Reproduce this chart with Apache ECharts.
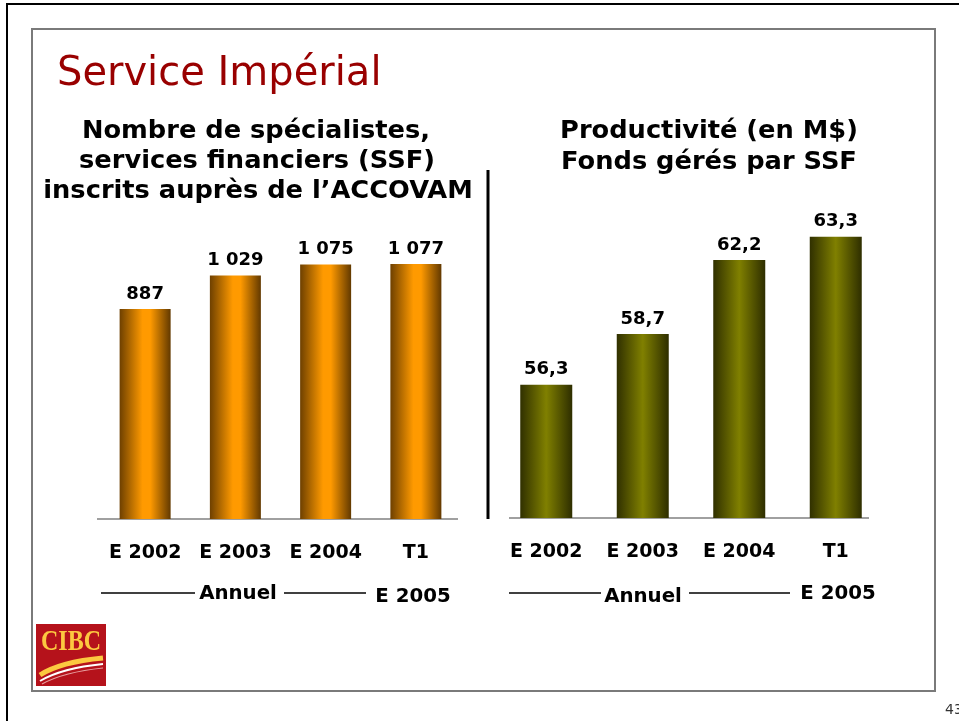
<!DOCTYPE html>
<html>
<head>
<meta charset="utf-8">
<script src="https://cdn.jsdelivr.net/npm/echarts@6/dist/echarts.min.js"></script>
<style>
  html, body { margin: 0; padding: 0; background: #fff; }
  #chart { width: 959px; height: 721px; }
</style>
</head>
<body>
<div id="chart"></div>
<script>
  // categories and values
  const categories = ['E 2002', 'E 2003', 'E 2004', 'T1']
  const ssfCount = [887, 1029, 1075, 1077]
  const fundsPerSsf = [56.3, 58.7, 62.2, 63.3]
  const groupLabels = ['Annuel', 'E 2005']

  const FONT = '"DejaVu Sans", Verdana, sans-serif'

  const orange = new echarts.graphic.LinearGradient(0, 0, 1, 0, [
    { offset: 0, color: '#6e4000' },
    { offset: 0.45, color: '#ff9a00' },
    { offset: 0.6, color: '#ff9a00' },
    { offset: 1, color: '#623900' }
  ])
  const olive = new echarts.graphic.LinearGradient(0, 0, 1, 0, [
    { offset: 0, color: '#303000' },
    { offset: 0.5, color: '#808000' },
    { offset: 1, color: '#2e2e00' }
  ])

  // 1029 -> "1 029", 56.3 -> "56,3"
  function spaced(v) {
    return String(v).replace(/\B(?=(\d{3})+(?!\d))/g, ' ')
  }
  function comma(v) {
    return v.toFixed(1).replace('.', ',')
  }

  function boldText(x, y, text, size, sx) {
    return {
      type: 'text', x: x, y: y, scaleX: sx || 1,
      style: {
        text: text, fill: '#000', font: 'bold ' + size + 'px ' + FONT,
        textAlign: 'center', textVerticalAlign: 'middle'
      }
    }
  }
  function hline(x1, x2, y, color, w) {
    return {
      type: 'line',
      shape: { x1: x1, y1: y, x2: x2, y2: y },
      style: { stroke: color || '#000', lineWidth: w || 1.5 }
    }
  }

  const chart = echarts.init(document.getElementById('chart'))

  const labelStyle = {
    show: true, position: 'top', distance: 6,
    color: '#000', fontFamily: FONT, fontWeight: 'bold', fontSize: 18
  }
  const xLabel = {
    interval: 0,
    color: '#000', fontFamily: FONT, fontWeight: 'bold', fontSize: 19,
    margin: 24, lineHeight: 20
  }

  chart.setOption({
    animation: false,
    title: {
      text: 'Service Impérial',
      left: 57, top: 55, padding: 0,
      textStyle: {
        color: '#990000', fontFamily: FONT, fontWeight: 'normal', fontSize: 40,
        textShadowColor: '#a8a8a8', textShadowOffsetX: 2, textShadowOffsetY: 2
      }
    },
    grid: [
      { left: 100, width: 361, top: 235, height: 284 },
      { left: 498, width: 386, top: 222, height: 296 }
    ],
    xAxis: [
      {
        gridIndex: 0, type: 'category', data: categories,
        axisLine: { show: false }, axisTick: { show: false }, axisLabel: xLabel
      },
      {
        gridIndex: 1, type: 'category', data: categories,
        axisLine: { show: false }, axisTick: { show: false }, axisLabel: xLabel
      }
    ],
    yAxis: [
      { gridIndex: 0, type: 'value', min: 0, max: 1200, show: false },
      { gridIndex: 1, type: 'value', min: 50, max: 64, show: false }
    ],
    series: [
      {
        name: 'SSF', type: 'bar', xAxisIndex: 0, yAxisIndex: 0,
        data: ssfCount, barWidth: 51,
        itemStyle: { color: orange },
        label: Object.assign({}, labelStyle, { formatter: p => spaced(p.value) })
      },
      {
        name: 'Fonds', type: 'bar', xAxisIndex: 1, yAxisIndex: 1,
        data: fundsPerSsf, barWidth: 52,
        itemStyle: { color: olive },
        label: Object.assign({}, labelStyle, { formatter: p => comma(p.value) })
      }
    ],
    graphic: [
      // slide frames
      {
        type: 'rect', shape: { x: 7, y: 4, width: 980, height: 740 },
        style: { fill: 'none', stroke: '#000', lineWidth: 2 }
      },
      {
        type: 'rect', shape: { x: 32, y: 29, width: 903, height: 662 },
        style: { fill: 'none', stroke: '#7a7a7a', lineWidth: 2 }
      },
      // chart headings
      boldText(256, 132, 'Nombre de spécialistes,', 24, 1.07),
      boldText(257, 162, 'services financiers (SSF)', 24, 1.07),
      boldText(258, 192, 'inscrits auprès de l\u2019ACCOVAM', 24, 1.07),
      boldText(709, 132, 'Productivité (en M$)', 24, 1.07),
      boldText(709, 163, 'Fonds gérés par SSF', 24, 1.07),
      // divider
      {
        type: 'line', shape: { x1: 488, y1: 170, x2: 488, y2: 519 },
        style: { stroke: '#000', lineWidth: 3 }
      },
      // baselines
      hline(97, 458, 519, '#808080', 1.5),
      hline(509, 869, 518, '#808080', 1.5),
      // period brackets
      hline(101, 195, 593),
      boldText(238, 594, groupLabels[0], 19, 1.04),
      hline(284, 366, 593),
      boldText(413, 597, groupLabels[1], 19, 1.04),
      hline(509, 601, 593),
      boldText(643, 597, groupLabels[0], 19, 1.04),
      hline(689, 790, 593),
      boldText(838, 594, groupLabels[1], 19, 1.04),
      // CIBC logo
      {
        type: 'rect', shape: { x: 36, y: 624, width: 70, height: 62 },
        style: { fill: '#b5121b' }
      },
      {
        type: 'text', x: 71, y: 642, scaleX: 0.8,
        style: {
          text: 'CIBC', fill: '#fcc840', font: 'bold 30px "Liberation Serif", serif',
          textAlign: 'center', textVerticalAlign: 'middle'
        }
      },
      {
        type: 'bezierCurve',
        shape: { x1: 40, y1: 675, x2: 103, y2: 658, cpx1: 60, cpy1: 662 },
        style: { stroke: '#fcc840', lineWidth: 5, fill: 'none' }
      },
      {
        type: 'bezierCurve',
        shape: { x1: 40, y1: 681, x2: 103, y2: 664, cpx1: 62, cpy1: 668 },
        style: { stroke: '#ffffff', lineWidth: 2, fill: 'none' }
      },
      {
        type: 'bezierCurve',
        shape: { x1: 42, y1: 684, x2: 103, y2: 668, cpx1: 64, cpy1: 672 },
        style: { stroke: '#e8a0a0', lineWidth: 1.2, fill: 'none' }
      },
      // page number
      {
        type: 'text', x: 945, y: 710,
        style: {
          text: '43', fill: '#333', font: '14px ' + FONT,
          textAlign: 'left', textVerticalAlign: 'middle'
        }
      }
    ]
  })
</script>
</body>
</html>
